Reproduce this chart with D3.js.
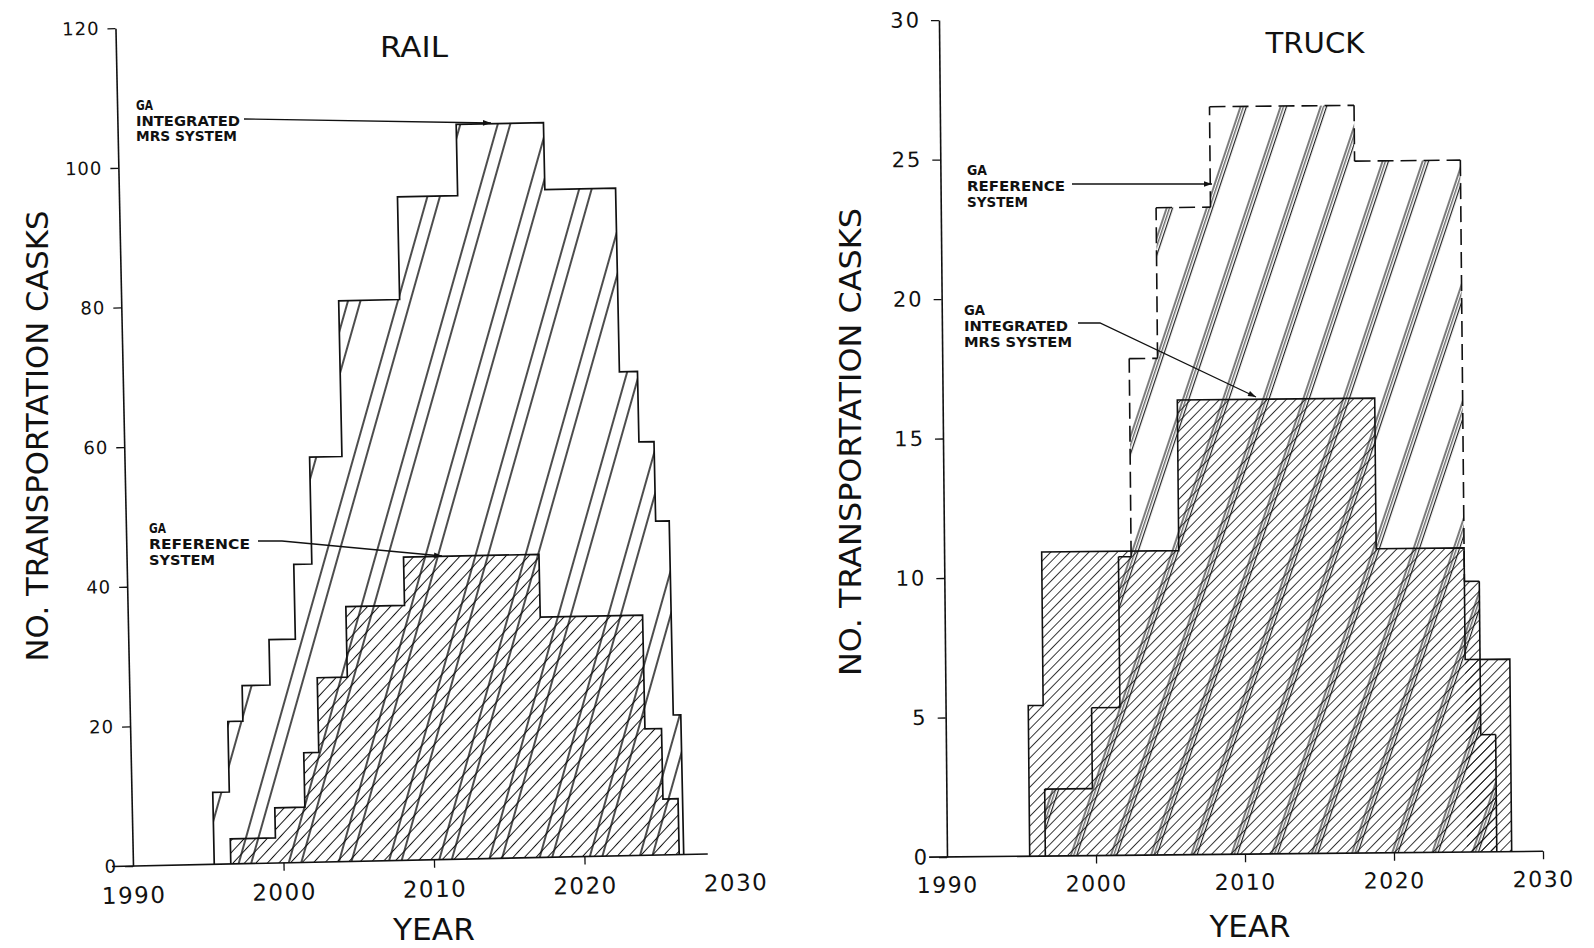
<!DOCTYPE html>
<html>
<head>
<meta charset="utf-8">
<script src="https://cdn.jsdelivr.net/npm/d3@7"></script>
<style>
  body { margin: 0; background: #fff; }
  svg { display: block; background: #fff; }
  text { font-family: "DejaVu Sans", "Liberation Sans", sans-serif; fill: #111; }
</style>
</head>
<body>
<svg id="chart" width="1594" height="948"></svg>
<script>
// ---- Rail: casks in service per year (step starts, values, last year) ----
const railYearsMRS  = [1995.4, 1996.5, 1997.5, 1999.35, 2001.1, 2002.3, 2004.45, 2008.5, 2012.5, 2018.3, 2023.0, 2024.2, 2025.2, 2026.1];
const railCasksMRS  = [10.3, 20.4, 25.5, 32.0, 42.7, 58.0, 80.3, 95.0, 105.2, 95.6, 69.3, 59.2, 47.8, 20.0];
const railEndMRS    = 2026.6;

const railYearsRef  = [1996.5, 1999.5, 2001.5, 2002.5, 2004.5, 2008.4, 2017.4, 2024.2, 2025.3];
const railCasksRef  = [3.6, 7.9, 15.7, 26.4, 36.5, 43.4, 34.4, 18.1, 8.0];
const railEndRef    = 2026.3;

// ---- Truck ----
const truckYearsMRS = [1995.55, 1996.55, 2005.75, 2019.0, 2024.9];
const truckCasksMRS = [5.4, 10.9, 16.3, 10.9, 6.9];
const truckEndMRS   = 2027.9;

const truckYearsRef = [1996.6, 1999.8, 2001.7, 2002.55, 2004.45, 2008.1, 2017.8, 2024.9, 2025.9];
const truckCasksRef = [2.4, 5.3, 10.7, 17.8, 23.2, 26.8, 24.8, 9.7, 4.2];
const truckEndRef   = 2026.9;
// steps of the reference outline drawn dashed (from index..to index)
const truckRefDashFrom = 3, truckRefDashTo = 7;

// ---- Axis ticks ----
const yearTicks      = [1990, 2000, 2010, 2020, 2030];
const railCaskTicks  = [0, 20, 40, 60, 80, 100, 120];
const truckCaskTicks = [0, 5, 10, 15, 20, 25, 30];

const svg = d3.select("#chart");
const defs = svg.append("defs");
const INK = "#111";

// line hatch patterns
function hatch(id, angle, period, offsets, widths) {
  const p = defs.append("pattern")
    .attr("id", id).attr("patternUnits", "userSpaceOnUse")
    .attr("width", period).attr("height", 40)
    .attr("patternTransform", `rotate(${angle})`);
  offsets.forEach((o, i) => p.append("line")
    .attr("x1", o).attr("x2", o).attr("y1", -2).attr("y2", 42)
    .attr("stroke", INK).attr("stroke-width", widths[i]));
}
hatch("railPairs", 17, 48, [5, 17], [1.5, 1.5]);
hatch("railFine", 44, 8.4, [4.2], [1.0]);
hatch("truckBands", 19, 38, [3, 5.8, 8.6], [1.1, 0.9, 1.1]);
hatch("truckFine", 45, 6.8, [3.4], [0.85]);

defs.append("marker").attr("id", "arrow")
  .attr("viewBox", "0 0 10 10").attr("refX", 10).attr("refY", 5)
  .attr("markerWidth", 12).attr("markerHeight", 8)
  .attr("markerUnits", "userSpaceOnUse").attr("orient", "auto")
  .append("path").attr("d", "M0,1.5L10,5L0,8.5Z").attr("fill", INK);

function steps(years, vals, end) {
  return years.map((yr, i) => ({ x: yr, v: vals[i] }))
    .concat([{ x: end, v: vals[vals.length - 1] }]);
}
function vertices(years, vals, end) {
  const pts = [{ x: years[0], v: 0 }];
  years.forEach((yr, i) => {
    if (i > 0) pts.push({ x: yr, v: vals[i - 1] });
    pts.push({ x: yr, v: vals[i] });
  });
  pts.push({ x: end, v: vals[vals.length - 1] });
  pts.push({ x: end, v: 0 });
  return pts;
}

function panel(cfg) {
  const g = svg.append("g")
    .attr("transform", `translate(${cfg.ox},${cfg.oy}) rotate(${cfg.rot})`);
  const x = d3.scaleLinear().domain([1990, 2030]).range([0, cfg.w]);
  const y = d3.scaleLinear().domain([0, cfg.yMax]).range([0, -cfg.h]);
  const area = d3.area().curve(d3.curveStepAfter)
    .x(d => x(d.x)).y0(0).y1(d => y(d.v));
  const line = d3.line().x(d => x(d.x)).y(d => y(d.v));
  return { g, x, y, area, line };
}

function axes(P, cfg) {
  const { g, x, y } = P;
  // baseline
  g.append("line").attr("x1", x(cfg.baseFrom)).attr("x2", x(cfg.baseTo))
    .attr("y1", 0).attr("y2", 0).attr("stroke", INK).attr("stroke-width", 1.6);
  const ax = g.append("g").call(
    d3.axisBottom(x).tickValues(yearTicks).tickSize(8).tickPadding(cfg.xPad)
      .tickFormat(d3.format("d")));
  ax.select(".domain").remove();
  ax.selectAll(".tick line").attr("stroke", INK).attr("stroke-width", 1.3)
    .attr("display", d => cfg.xTickLines.includes(d) ? null : "none");
  ax.selectAll(".tick text").attr("fill", INK)
    .style("font-family", '"DejaVu Sans", sans-serif')
    .style("font-size", cfg.xFont + "px").style("letter-spacing", "1.5px");

  const ay = g.append("g").call(
    d3.axisLeft(y).tickValues(cfg.yTicks).tickSize(8).tickSizeOuter(0)
      .tickPadding(cfg.yPad).tickFormat(d3.format("d")));
  ay.select(".domain").attr("stroke", INK).attr("stroke-width", 1.6);
  ay.selectAll(".tick line").attr("stroke", INK).attr("stroke-width", 1.3);
  ay.selectAll(".tick text").attr("fill", INK)
    .style("font-family", '"DejaVu Sans", sans-serif')
    .style("font-size", cfg.yFont + "px").style("letter-spacing", cfg.yLs + "px");
}

// ================= RAIL =================
const railCfg = { ox: 133, oy: 866, w: 602, h: 838, yMax: 120, rot: -1.2,
  baseFrom: 1988.6, baseTo: 2028.2, xTickLines: [2000, 2010, 2020],
  yTicks: railCaskTicks, xPad: 13, yPad: 8, xFont: 23, yFont: 18, yLs: 1 };
const R = panel(railCfg);
R.g.append("path").datum(steps(railYearsMRS, railCasksMRS, railEndMRS))
  .attr("d", R.area).attr("fill", "url(#railPairs)");
R.g.append("path").datum(steps(railYearsRef, railCasksRef, railEndRef))
  .attr("d", R.area).attr("fill", "url(#railFine)");
R.g.append("path").datum(vertices(railYearsMRS, railCasksMRS, railEndMRS))
  .attr("d", R.line).attr("fill", "none").attr("stroke", INK).attr("stroke-width", 1.7);
R.g.append("path").datum(vertices(railYearsRef, railCasksRef, railEndRef))
  .attr("d", R.line).attr("fill", "none").attr("stroke", INK).attr("stroke-width", 1.7);
axes(R, railCfg);

// ================= TRUCK =================
const truckCfg = { ox: 947, oy: 857, w: 596, h: 837, yMax: 30, rot: -0.55,
  baseFrom: 1988.8, baseTo: 2030, xTickLines: [2000, 2010, 2020, 2030],
  yTicks: truckCaskTicks, xPad: 12, yPad: 10, xFont: 22, yFont: 21, yLs: 2 };
const T = panel(truckCfg);
T.g.append("path").datum(steps(truckYearsMRS, truckCasksMRS, truckEndMRS))
  .attr("d", T.area).attr("fill", "url(#truckFine)");
// lower right steps of the reference system share the fine hatch
T.g.append("path")
  .datum(steps(truckYearsRef.slice(truckRefDashTo), truckCasksRef.slice(truckRefDashTo), truckEndRef))
  .attr("d", T.area).attr("fill", "url(#truckFine)");
T.g.append("path").datum(steps(truckYearsRef, truckCasksRef, truckEndRef))
  .attr("d", T.area).attr("fill", "url(#truckBands)");
T.g.append("path").datum(vertices(truckYearsMRS, truckCasksMRS, truckEndMRS))
  .attr("d", T.line).attr("fill", "none").attr("stroke", INK).attr("stroke-width", 1.6);

// reference outline: solid at both low ends, dashed elsewhere
const refV = vertices(truckYearsRef, truckCasksRef, truckEndRef);
const dashLo = truckYearsRef[truckRefDashFrom], dashHi = truckYearsRef[truckRefDashTo];
d3.pairs(refV).forEach(([a, b]) => {
  const mid = (a.x + b.x) / 2;
  const dashed = mid >= dashLo && mid <= dashHi;
  T.g.append("path").datum([a, b]).attr("d", T.line)
    .attr("fill", "none").attr("stroke", INK).attr("stroke-width", 1.6)
    .attr("stroke-dasharray", dashed ? "16 7" : null);
});
axes(T, truckCfg);

// ================= TITLES & LABELS =================
function label(xp, yp, txt, size, len, anchor, extra) {
  const t = svg.append("text").attr("x", xp).attr("y", yp).text(txt)
    .style("font-size", size + "px").attr("text-anchor", anchor || "start");
  if (len) t.attr("textLength", len).attr("lengthAdjust", "spacingAndGlyphs");
  if (extra) extra(t);
  return t;
}
label(414, 57, "RAIL", 28, 68, "middle");
label(1315, 53, "TRUCK", 28, 99, "middle");
label(434, 940, "YEAR", 31, 82, "middle");
label(1250, 937, "YEAR", 31, 81, "middle");
label(0, 0, "NO. TRANSPORTATION CASKS", 30, 451, "middle",
  t => t.attr("transform", "translate(48,436) rotate(-90)"));
label(0, 0, "NO. TRANSPORTATION CASKS", 30, 468, "middle",
  t => t.attr("transform", "translate(861,442) rotate(-90)"));

function note(xp, lines, base, step, lens) {
  lines.forEach((s, i) => label(xp, base + i * step, s, 13.5, lens[i], "start",
    t => t.style("font-weight", "bold")));
}
note(136, ["GA", "INTEGRATED", "MRS SYSTEM"], 110, 15.5, [17, 104, 101]);
note(149, ["GA", "REFERENCE", "SYSTEM"], 533, 16, [17, 101, 66]);
note(967, ["GA", "REFERENCE", "SYSTEM"], 175, 16, [20, 98, 61]);
note(964, ["GA", "INTEGRATED", "MRS SYSTEM"], 315, 16, [21, 104, 108]);

function leader(pts) {
  svg.append("path").attr("d", d3.line()(pts))
    .attr("fill", "none").attr("stroke", INK).attr("stroke-width", 1.3)
    .attr("marker-end", "url(#arrow)");
}
leader([[244, 119], [491, 123]]);
leader([[258, 541], [282, 541], [442, 556]]);
leader([[1072, 184], [1212, 184]]);
leader([[1078, 323], [1100, 323], [1256, 397]]);
</script>
</body>
</html>
